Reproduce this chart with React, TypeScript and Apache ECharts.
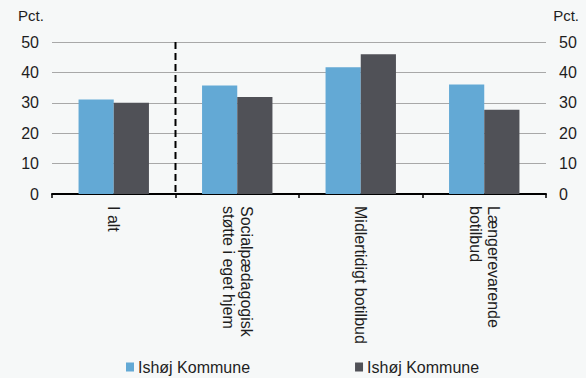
import React, { useEffect, useRef } from "react";
import * as echarts from "echarts";

const categories: string[] = [
  "I alt",
  "Socialpædagogisk\nstøtte i eget hjem",
  "Midlertidigt botilbud",
  "Længerevarende\nbotilbud",
];
const seriesA: number[] = [31.1, 35.7, 41.7, 36.0];
const seriesB: number[] = [30.0, 31.9, 46.0, 27.7];
const legendLabel = "Ishøj Kommune";
const yTicks = { min: 0, max: 50, interval: 10 };
const unitLabel = "Pct.";
const dividerAfterIndex = 0;

const FONT = '"Liberation Sans", Arial, sans-serif';
const TEXT = "#1e1e1e";

export default function App() {
  const ref = useRef<HTMLDivElement>(null);
  useEffect(() => {
    if (!ref.current) return;
    const chart = echarts.init(ref.current, undefined, { renderer: "svg" });
    const yAxisBase = {
      type: "value" as const,
      min: yTicks.min,
      max: yTicks.max,
      interval: yTicks.interval,
      axisLine: { show: false },
      axisTick: { show: false },
      axisLabel: { color: TEXT, fontSize: 16, fontFamily: FONT, margin: 13 },
    };
    chart.setOption({
      animation: false,
      backgroundColor: "#F6F8F8",
      textStyle: { fontFamily: FONT },
      grid: { left: 52, right: 40, top: 42, bottom: 184, containLabel: false },
      legend: {
        left: 126,
        top: 359,
        padding: 0,
        itemWidth: 8,
        itemHeight: 9,
        itemGap: 105,
        icon: "rect",
        formatter: () => legendLabel,
        textStyle: { color: TEXT, fontSize: 16, fontFamily: FONT, padding: [0, 0, 0, -1] },
        data: ["A", "B"],
      },
      xAxis: {
        type: "category",
        data: categories,
        axisLine: { show: true, lineStyle: { color: "#000", width: 2 } },
        axisTick: { show: true, length: 4, lineStyle: { color: "#000", width: 1.5 } },
        axisLabel: {
          rotate: -90,
          color: TEXT,
          fontSize: 16,
          fontFamily: FONT,
          lineHeight: 18,
          margin: 12,
          interval: 0,
        },
        splitLine: { show: false },
      },
      yAxis: [
        {
          ...yAxisBase,
          position: "left",
          splitLine: { show: true, lineStyle: { color: "#A8A8A8", width: 1 } },
        },
        {
          ...yAxisBase,
          position: "right",
          splitLine: { show: false },
        },
      ],
      series: [
        {
          name: "A",
          type: "bar",
          data: seriesA,
          itemStyle: { color: "#63A9D5" },
          barGap: "0%",
          barCategoryGap: "43%",
        },
        {
          name: "B",
          type: "bar",
          data: seriesB,
          itemStyle: { color: "#505157" },
          barGap: "0%",
          barCategoryGap: "43%",
        },
      ],
    });
    const xa = chart.convertToPixel({ xAxisIndex: 0 }, dividerAfterIndex) as number;
    const xb = chart.convertToPixel({ xAxisIndex: 0 }, dividerAfterIndex + 1) as number;
    const yTop = chart.convertToPixel({ yAxisIndex: 0 }, yTicks.max) as number;
    const yBot = chart.convertToPixel({ yAxisIndex: 0 }, yTicks.min) as number;
    const xm = (xa + xb) / 2;
    chart.setOption({
      graphic: [
        {
          type: "text",
          left: 18,
          top: 8,
          style: { text: unitLabel, fill: TEXT, font: `15px ${FONT}` },
        },
        {
          type: "text",
          right: 7,
          top: 8,
          style: { text: unitLabel, fill: TEXT, font: `15px ${FONT}` },
        },
        {
          type: "line",
          shape: { x1: xm, y1: yTop, x2: xm, y2: yBot },
          style: { stroke: "#000", lineWidth: 2, lineDash: [7, 4] },
          z: 10,
        },
      ],
    });
    return () => chart.dispose();
  }, []);
  return (
    <div
      ref={ref}
      style={{ position: "fixed", left: 0, top: 0, width: 586, height: 378 }}
    />
  );
}
